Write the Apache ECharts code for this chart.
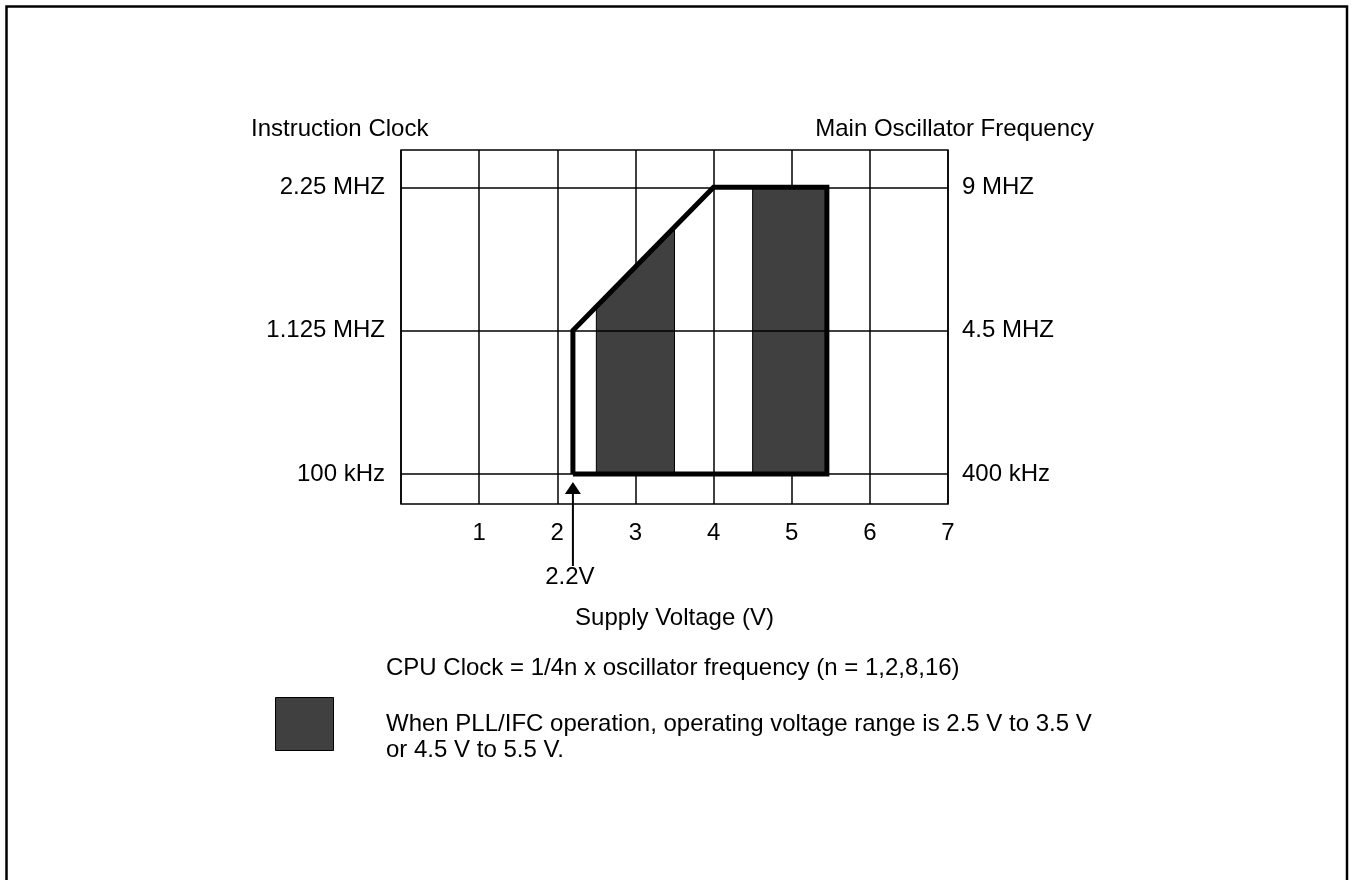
<!DOCTYPE html>
<html>
<head>
<meta charset="utf-8">
<script src="https://cdn.jsdelivr.net/npm/echarts@6/dist/echarts.min.js"></script>
<style>
  html, body { margin: 0; padding: 0; background: #fff; }
  #chart { width: 1353px; height: 880px; }
</style>
</head>
<body>
<div id="chart"></div>
<script>
// y positions are level indexes: 0 = lowest clock, 1 = middle, 2 = highest
const xTicks = [1, 2, 3, 4, 5, 6, 7];
const leftLabels = ["100 kHz", "1.125 MHZ", "2.25 MHZ"];
const rightLabels = ["400 kHz", "4.5 MHZ", "9 MHZ"];
const levels = [0, 1, 2];

// operating envelope outline (voltage, level)
const envelope = [[2.2, 0], [2.2, 1], [4, 2], [5.45, 2], [5.45, 0], [2.2, 0]];
// PLL/IFC shaded bands (voltage, level)
const band1 = [[2.5, 0], [2.5, 1.17], [3.5, 1.72], [3.5, 0]];
const band2 = [[4.5, 0], [4.5, 2], [5.45, 2], [5.45, 0]];
const bands = [band1, band2];

const minVoltage = 2.2;
const minVoltageLabel = "2.2V";

const font = "'Liberation Sans', Arial, sans-serif";
const fs = 24;

const myChart = echarts.init(document.getElementById("chart"));

const option = {
  backgroundColor: "#fff",
  animation: false,
  textStyle: { fontFamily: font },
  grid: {
    left: 401,
    right: 405,
    top: 150,
    bottom: 376,
    show: true,
    borderColor: "#000",
    borderWidth: 1.5,
    containLabel: false,
  },
  xAxis: {
    type: "value",
    min: 0,
    max: 7,
    interval: 1,
    name: "Supply Voltage (V)",
    nameLocation: "middle",
    nameGap: 102,
    nameTextStyle: { color: "#000", fontSize: fs, fontFamily: font },
    axisLine: { show: false },
    axisTick: { show: false },
    axisLabel: {
      color: "#000",
      fontSize: fs,
      fontFamily: font,
      margin: 17,
      formatter: function (v) {
        return xTicks.indexOf(v) >= 0 ? String(v) : "";
      },
    },
    splitLine: { show: true, lineStyle: { color: "#000", width: 1.5 } },
  },
  yAxis: [
    {
      type: "value",
      min: -0.21,
      max: 2.26,
      position: "left",
      axisLine: { show: false },
      axisTick: { show: false },
      splitLine: { show: false },
      axisLabel: {
        customValues: levels,
        color: "#000",
        fontSize: fs,
        fontFamily: font,
        margin: 16,
        formatter: function (v) {
          return leftLabels[Math.round(v)];
        },
      },
    },
    {
      type: "value",
      min: -0.21,
      max: 2.26,
      position: "right",
      axisLine: { show: false },
      axisTick: { show: false },
      splitLine: { show: false },
      axisLabel: {
        customValues: levels,
        color: "#000",
        fontSize: fs,
        fontFamily: font,
        margin: 14,
        formatter: function (v) {
          return rightLabels[Math.round(v)];
        },
      },
    },
  ],
  series: [
    {
      name: "levels",
      type: "line",
      data: [],
      silent: true,
      markLine: {
        silent: true,
        symbol: "none",
        label: { show: false },
        lineStyle: { color: "#000", width: 1.5, type: "solid" },
        data: levels.map(function (l) { return { yAxis: l }; }),
      },
      z: 1,
    },
    {
      name: "PLL/IFC",
      type: "custom",
      silent: true,
      data: bands.map(function (b, i) { return [i]; }),
      renderItem: function (params, api) {
        const pts = bands[params.dataIndex].map(function (p) {
          return api.coord(p);
        });
        return {
          type: "polygon",
          shape: { points: pts },
          style: { fill: "#404040", stroke: "#000", lineWidth: 1 },
        };
      },
      z: 2,
    },
    {
      name: "envelope",
      type: "line",
      data: envelope,
      symbol: "none",
      silent: true,
      lineStyle: { color: "#000", width: 5, join: "miter" },
      z: 3,
    },
  ],
};

myChart.setOption(option);

const ax = myChart.convertToPixel({ xAxisIndex: 0 }, minVoltage);
const baseY = myChart.convertToPixel({ yAxisIndex: 0 }, 0);

myChart.setOption({
  graphic: [
    {
      type: "rect",
      shape: { x: 6.5, y: 6.5, width: 1340.5, height: 900 },
      style: { fill: null, stroke: "#000", lineWidth: 2.5 },
      silent: true,
    },
    {
      type: "text",
      x: 251,
      y: 129,
      style: { text: "Instruction Clock", font: fs + "px " + font, fill: "#000", verticalAlign: "middle", align: "left" },
    },
    {
      type: "text",
      x: 1094,
      y: 129,
      style: { text: "Main Oscillator Frequency", font: fs + "px " + font, fill: "#000", verticalAlign: "middle", align: "right" },
    },
    {
      type: "line",
      shape: { x1: ax, y1: baseY + 16, x2: ax, y2: 566 },
      style: { stroke: "#000", lineWidth: 2 },
    },
    {
      type: "polygon",
      shape: { points: [[ax, baseY + 8], [ax - 8, baseY + 20], [ax + 8, baseY + 20]] },
      style: { fill: "#000" },
    },
    {
      type: "text",
      x: ax - 3,
      y: 577,
      style: { text: minVoltageLabel, font: fs + "px " + font, fill: "#000", verticalAlign: "middle", align: "center" },
    },
    {
      type: "text",
      x: 386,
      y: 668,
      style: { text: "CPU Clock = 1/4n x oscillator frequency (n = 1,2,8,16)", font: fs + "px " + font, fill: "#000", verticalAlign: "middle", align: "left" },
    },
    {
      type: "rect",
      shape: { x: 275.5, y: 697.5, width: 58, height: 53 },
      style: { fill: "#404040", stroke: "#000", lineWidth: 1 },
    },
    {
      type: "text",
      x: 386,
      y: 724,
      style: { text: "When PLL/IFC operation, operating voltage range is 2.5 V to 3.5 V", font: fs + "px " + font, fill: "#000", verticalAlign: "middle", align: "left" },
    },
    {
      type: "text",
      x: 386,
      y: 750,
      style: { text: "or 4.5 V to 5.5 V.", font: fs + "px " + font, fill: "#000", verticalAlign: "middle", align: "left" },
    },
  ],
});
</script>
</body>
</html>
